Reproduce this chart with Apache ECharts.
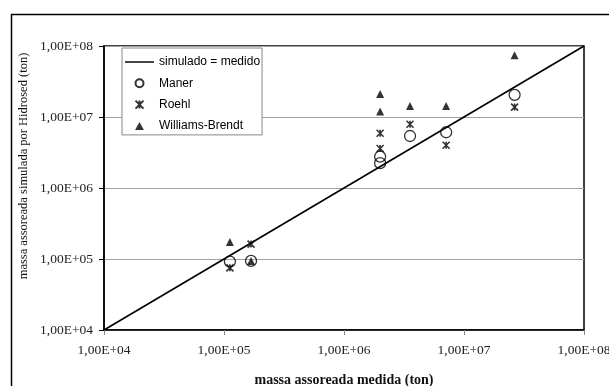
<!DOCTYPE html>
<html>
<head>
<meta charset="utf-8">
<script src="https://cdn.jsdelivr.net/npm/echarts@6/dist/echarts.min.js"></script>
<style>html,body{margin:0;padding:0;background:#fff;}#c{width:609px;height:386px;}</style>
</head>
<body>
<div id="c"></div>
<script>
var axisTicks = [1e4, 1e5, 1e6, 1e7, 1e8];
var lineX = [1e4, 1e8];
var lineY = [1e4, 1e8];
var manerX = [1.12e5, 1.68e5, 2.0e6, 2.0e6, 3.55e6, 7.1e6, 2.64e7];
var manerY = [9.2e4, 9.4e4, 2.76e6, 2.24e6, 5.4e6, 6.1e6, 2.05e7];
var roehlX = [1.12e5, 1.68e5, 2.0e6, 2.0e6, 3.55e6, 7.1e6, 2.64e7];
var roehlY = [7.5e4, 1.62e5, 5.9e6, 3.6e6, 7.9e6, 4.0e6, 1.38e7];
var wbX = [1.12e5, 1.68e5, 2.0e6, 2.0e6, 3.55e6, 7.1e6, 2.64e7];
var wbY = [1.74e5, 9.4e4, 2.1e7, 1.2e7, 1.43e7, 1.43e7, 7.4e7];

function zip(a, b) { return a.map(function (v, i) { return [v, b[i]]; }); }
function fmt(v) {
  var e = Math.round(Math.log10(v));
  return '1,00E+' + (e < 10 ? '0' + e : e);
}
var serif = 'Liberation Serif';
var chart = echarts.init(document.getElementById('c'));
var starPath = 'path://M0,0L10,10M10,0L0,10M5,0L5,10';
var triPath = 'path://M5,0L10,9L0,9Z';
var linePath = 'path://M0,0L32,0L32,1.6L0,1.6Z';
chart.setOption({
  animation: false,
  backgroundColor: '#fff',
  grid: { left: 104, right: 25, top: 46, bottom: 56, outerBoundsMode: 'none', containLabel: false,
    show: true, borderColor: '#000', borderWidth: 1.5, backgroundColor: 'transparent' },
  xAxis: {
    type: 'log', logBase: 10, min: axisTicks[0], max: axisTicks[axisTicks.length - 1],
    axisLine: { show: true, onZero: false, lineStyle: { color: '#000', width: 1.5 } },
    axisTick: { show: true, length: 5, lineStyle: { color: '#888' } },
    minorTick: { show: false },
    splitLine: { show: false },
    axisLabel: { formatter: fmt, fontFamily: serif, fontSize: 13.5, color: '#222', margin: 13 },
    name: 'massa assoreada medida (ton)', nameLocation: 'middle', nameGap: 43,
    nameTextStyle: { fontFamily: serif, fontSize: 14, fontWeight: 'bold', color: '#111' }
  },
  yAxis: {
    type: 'log', logBase: 10, min: axisTicks[0], max: axisTicks[axisTicks.length - 1],
    axisLine: { show: true, onZero: false, lineStyle: { color: '#000', width: 1.5 } },
    axisTick: { show: true, length: 5, lineStyle: { color: '#000' } },
    minorTick: { show: false },
    splitLine: { show: true, lineStyle: { color: '#a0a0a0', width: 1 } },
    axisLabel: { formatter: fmt, fontFamily: serif, fontSize: 13.5, color: '#222', margin: 11 }
  },
  legend: {
    orient: 'vertical', left: 122, top: 48,
    padding: [8, 2, 3, 3], itemGap: 9.3, itemWidth: 29, itemHeight: 8,
    symbolKeepAspect: true,
    borderColor: '#888', borderWidth: 1, backgroundColor: '#fff',
    textStyle: { fontFamily: 'Liberation Sans', fontSize: 12, color: '#000' },
    data: [
      { name: 'simulado = medido', icon: linePath },
      { name: 'Maner', icon: 'circle' },
      { name: 'Roehl', icon: starPath },
      { name: 'Williams-Brendt', icon: triPath }
    ]
  },
  graphic: [{
    type: 'rect', left: 9, top: 12, shape: { x: 0, y: 0, width: 700, height: 500 },
    style: { fill: 'none', stroke: '#000', lineWidth: 1.5 }, silent: true, z: 100
  }, {
    type: 'text', x: 24, y: 166, rotation: Math.PI / 2,
    style: { text: 'massa assoreada simulada por Hidrosed (ton)', fontFamily: serif, fontSize: 12.5, fill: '#111', align: 'center', verticalAlign: 'middle' }
  }],
  series: [{
    name: 'simulado = medido', type: 'line', data: zip(lineX, lineY), symbol: 'none', showSymbol: false,
    lineStyle: { color: '#000', width: 1.6 }, itemStyle: { color: '#000' }, z: 3
  }, {
    name: 'Maner', type: 'scatter', data: zip(manerX, manerY), symbol: 'circle', symbolSize: 11,
    itemStyle: { color: 'rgba(255,255,255,0)', borderColor: '#000', borderWidth: 1.3 }, z: 2
  }, {
    name: 'Roehl', type: 'scatter', data: zip(roehlX, roehlY), symbol: starPath, symbolSize: 7,
    itemStyle: { color: 'rgba(0,0,0,0)', borderColor: '#000', borderWidth: 1.6 }, z: 2
  }, {
    name: 'Williams-Brendt', type: 'scatter', data: zip(wbX, wbY), symbol: triPath, symbolSize: 8,
    itemStyle: { color: '#000' }, z: 2
  }]
});
</script>
</body>
</html>
